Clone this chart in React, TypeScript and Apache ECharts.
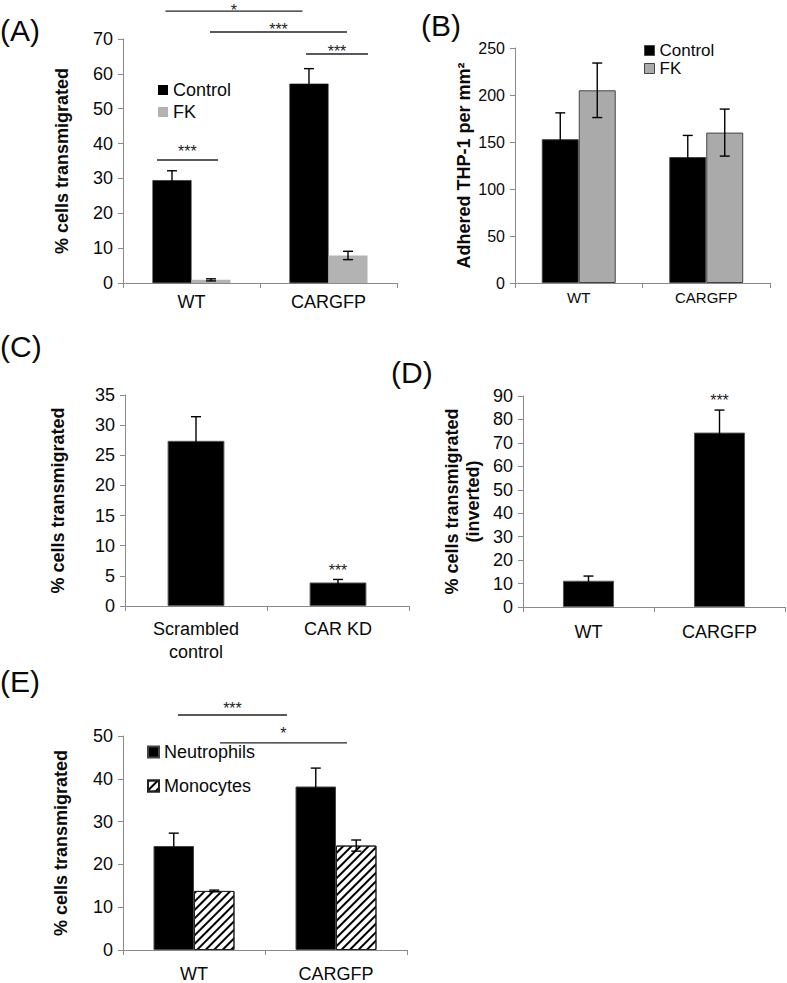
import React, { useEffect, useRef } from "react";
import * as echarts from "echarts";

// ---------- data ----------
const groupsWT = ["WT", "CARGFP"];

// (A) % cells transmigrated
const aControl = [29.5, 57.2];
const aControlErr = [2.7, 4.3];
const aFK = [0.9, 7.9];
const aFKErr = [0.3, 1.2];

// (B) Adhered THP-1 per mm²
const bControl = [153, 134];
const bControlErr = [28, 23];
const bFK = [205, 160];
const bFKErr = [29, 25];

// (C)
const cCategories = ["Scrambled\ncontrol", "CAR KD"];
const cValues = [27.4, 3.9];
const cErr = [4.0, 0.5];

// (D)
const dValues = [11.2, 74.4];
const dErr = [2.0, 9.6];

// (E)
const eNeutrophils = [24.3, 38.2];
const eNeutErr = [3.0, 4.3];
const eMonocytes = [13.8, 24.4];
const eMonoErr = [0.2, 1.3];

// significance annotations: from/to in category-index units, y = line value, labelY = label value
const aSig = [
  { from: -0.19, to: 0.81, y: 78.0, labelY: 79.2, label: "*" },
  { from: 0.135, to: 1.135, y: 72.0, labelY: 73.6, label: "***" },
  { from: 0.836, to: 1.288, y: 65.7, labelY: 67.5, label: "***" },
  { from: -0.252, to: 0.193, y: 35.3, labelY: 38.6, label: "***" },
];
const cSig = [{ from: 1, to: 1, y: 6.5, labelY: 6.5, label: "***" }];
const dSig = [{ from: 1, to: 1, y: 89.6, labelY: 89.6, label: "***" }];
const eSig = [
  { from: -0.113, to: 0.655, y: 54.9, labelY: 57.2, label: "***" },
  { from: 0.183, to: 1.077, y: 48.4, labelY: 51.4, label: "*" },
];

// ---------- helpers ----------
const FONT = "'Liberation Sans', Arial, Helvetica, sans-serif";
const AXIS_GRAY = "#8a8a8a";
const TEXT = "#0a0a0a";

function errorBars(gi: number, values: number[], errs: number[], offsetFrac: number, cap = 5) {
  return {
    type: "custom",
    xAxisIndex: gi,
    yAxisIndex: gi,
    z: 5,
    silent: true,
    data: values.map((v, i) => [i, v, errs[i]]),
    renderItem: (params: any, api: any) => {
      const i = api.value(0);
      const v = api.value(1);
      const e = api.value(2);
      const catW = api.size([1, 0])[0];
      const c = api.coord([i, v]);
      const x = c[0] + offsetFrac * catW;
      const top = api.coord([i, v + e])[1];
      const bot = api.coord([i, Math.max(0, v - e)])[1];
      const st = { stroke: "#000", lineWidth: 1.4 };
      return {
        type: "group",
        children: [
          { type: "line", shape: { x1: x, y1: top, x2: x, y2: bot }, style: st },
          { type: "line", shape: { x1: x - cap, y1: top, x2: x + cap, y2: top }, style: st },
          { type: "line", shape: { x1: x - cap, y1: bot, x2: x + cap, y2: bot }, style: st },
        ],
      };
    },
  };
}

function sigMarks(gi: number, marks: any[], fontSize: number) {
  return {
    type: "custom",
    xAxisIndex: gi,
    yAxisIndex: gi,
    z: 6,
    silent: true,
    clip: false,
    data: marks.map((m, i) => [0, m.y, i]),
    renderItem: (params: any, api: any) => {
      const m = marks[params.dataIndex];
      const catW = api.size([1, 0])[0];
      const c0 = api.coord([0, m.y]);
      const x1 = c0[0] + m.from * catW;
      const x2 = c0[0] + m.to * catW;
      const ly = api.coord([0, m.labelY])[1];
      const children: any[] = [];
      if (m.from !== m.to) {
        children.push({
          type: "line",
          shape: { x1, y1: c0[1], x2, y2: c0[1] },
          style: { stroke: "#222", lineWidth: 1.4 },
        });
      }
      children.push({
        type: "text",
        x: (x1 + x2) / 2,
        y: ly + fontSize * 0.22,
        style: {
          text: m.label,
          fill: "#222",
          font: `${fontSize}px ${FONT}`,
          align: "center",
          verticalAlign: "middle",
        },
      });
      return { type: "group", children };
    },
  };
}

function yAxisCfg(gi: number, max: number, interval: number, name: string, nameGap: number, fontSize: number, nameSize: number) {
  return {
    type: "value",
    gridIndex: gi,
    min: 0,
    max,
    interval,
    name,
    nameLocation: "middle",
    nameGap,
    nameRotate: 90,
    nameTextStyle: { fontSize: nameSize, fontWeight: "bold", color: TEXT, fontFamily: FONT, lineHeight: nameSize + 3 },
    splitLine: { show: false },
    axisLine: { show: true, lineStyle: { color: AXIS_GRAY, width: 1 } },
    axisTick: { show: true, inside: false, length: 5, lineStyle: { color: AXIS_GRAY } },
    axisLabel: { fontSize, color: TEXT, fontFamily: FONT, margin: 10 },
  };
}

function xAxisCfg(gi: number, data: string[], fontSize: number, margin: number, lineHeight?: number) {
  return {
    type: "category",
    gridIndex: gi,
    data,
    axisLine: { show: true, lineStyle: { color: AXIS_GRAY, width: 1 } },
    axisTick: { show: true, inside: false, length: 5, lineStyle: { color: AXIS_GRAY } },
    axisLabel: { fontSize, color: TEXT, fontFamily: FONT, margin, interval: 0, lineHeight: lineHeight || fontSize + 4 },
  };
}

const hatchDecal = {
  symbol: "rect",
  symbolSize: 1,
  dashArrayX: [1, 0],
  dashArrayY: [1.2, 3.6],
  rotation: -Math.PI / 4,
  color: "#000",
};

export default function App() {
  const ref = useRef<HTMLDivElement>(null);

  useEffect(() => {
    if (!ref.current) return;
    const chart = echarts.init(ref.current, undefined, { renderer: "svg" });

    const gapA = 0.43, gapB = 0.42, gapC = 0.6, gapD = 0.61, gapE = 0.43;
    const off = (g: number) => (1 - g) / 4;
    const panelFont = `30px ${FONT}`;

    const option: any = {
      animation: false,
      backgroundColor: "#fff",
      textStyle: { fontFamily: FONT },
      grid: [
        { left: 123, top: 39, width: 274, height: 244, outerBoundsMode: "none" },
        { left: 515, top: 48, width: 255, height: 235, outerBoundsMode: "none" },
        { left: 125, top: 395, width: 284, height: 211, outerBoundsMode: "none" },
        { left: 523, top: 396, width: 262, height: 211, outerBoundsMode: "none" },
        { left: 123, top: 736, width: 284, height: 214, outerBoundsMode: "none" },
      ],
      xAxis: [
        xAxisCfg(0, groupsWT, 18, 8),
        xAxisCfg(1, groupsWT, 15, 5),
        xAxisCfg(2, cCategories, 18, 11, 23),
        xAxisCfg(3, groupsWT, 18, 14),
        xAxisCfg(4, groupsWT, 18, 13),
      ],
      yAxis: [
        yAxisCfg(0, 70, 10, "% cells transmigrated", 51, 18, 18),
        yAxisCfg(1, 250, 50, "Adhered THP-1 per mm²", 40, 16, 18),
        yAxisCfg(2, 35, 5, "% cells transmigrated", 57, 18, 18),
        yAxisCfg(3, 90, 10, "% cells transmigrated\n(inverted)", 40, 18, 18),
        yAxisCfg(4, 50, 10, "% cells transmigrated", 52, 18, 18),
      ],
      legend: [
        {
          left: 158, top: 81, orient: "vertical", padding: 0, itemGap: 4,
          itemWidth: 10, itemHeight: 10, icon: "rect", selectedMode: false,
          textStyle: { fontSize: 18, color: TEXT, fontFamily: FONT },
          data: [
            { name: "Control", itemStyle: { color: "#000", borderWidth: 0 } },
            { name: "FK", itemStyle: { color: "#b3b3b3", borderWidth: 0 } },
          ],
        },
        {
          left: 644, top: 42, orient: "vertical", padding: 0, itemGap: 1,
          itemWidth: 10, itemHeight: 10, icon: "rect", selectedMode: false,
          textStyle: { fontSize: 17, color: TEXT, fontFamily: FONT },
          data: [
            { name: "Control", itemStyle: { color: "#000", borderColor: "#444", borderWidth: 1 } },
            { name: "FK", itemStyle: { color: "#aaaaaa", borderColor: "#444", borderWidth: 1 } },
          ],
        },
        {
          left: 147, top: 743, orient: "vertical", padding: 0, itemGap: 16,
          itemWidth: 11, itemHeight: 11, icon: "rect", selectedMode: false,
          textStyle: { fontSize: 18, color: TEXT, fontFamily: FONT },
          data: ["Neutrophils", "Monocytes"],
        },
      ],
      graphic: [
        { type: "text", x: 0, y: 30, style: { text: "(A)", font: panelFont, fill: TEXT, verticalAlign: "middle" } },
        { type: "text", x: 421, y: 25, style: { text: "(B)", font: panelFont, fill: TEXT, verticalAlign: "middle" } },
        { type: "text", x: 0, y: 346, style: { text: "(C)", font: panelFont, fill: TEXT, verticalAlign: "middle" } },
        { type: "text", x: 391, y: 372, style: { text: "(D)", font: panelFont, fill: TEXT, verticalAlign: "middle" } },
        { type: "text", x: 0, y: 681, style: { text: "(E)", font: panelFont, fill: TEXT, verticalAlign: "middle" } },
      ],
      series: [
        // A
        { name: "Control", type: "bar", xAxisIndex: 0, yAxisIndex: 0, data: aControl, barGap: "0%", barCategoryGap: `${gapA * 100}%`, itemStyle: { color: "#000", borderColor: "#222", borderWidth: 0.6 } },
        { name: "FK", type: "bar", xAxisIndex: 0, yAxisIndex: 0, data: aFK, barGap: "0%", barCategoryGap: `${gapA * 100}%`, itemStyle: { color: "#b3b3b3" } },
        errorBars(0, aControl, aControlErr, -off(gapA)),
        errorBars(0, aFK, aFKErr, off(gapA)),
        sigMarks(0, aSig, 16),
        // B
        { name: "Control", type: "bar", xAxisIndex: 1, yAxisIndex: 1, data: bControl, barGap: "0%", barCategoryGap: `${gapB * 100}%`, itemStyle: { color: "#000", borderColor: "#444", borderWidth: 1 } },
        { name: "FK", type: "bar", xAxisIndex: 1, yAxisIndex: 1, data: bFK, barGap: "0%", barCategoryGap: `${gapB * 100}%`, itemStyle: { color: "#aaaaaa", borderColor: "#444", borderWidth: 1 } },
        errorBars(1, bControl, bControlErr, -off(gapB)),
        errorBars(1, bFK, bFKErr, off(gapB)),
        // C
        { name: "C", type: "bar", xAxisIndex: 2, yAxisIndex: 2, data: cValues, barCategoryGap: `${gapC * 100}%`, itemStyle: { color: "#000", borderColor: "#555", borderWidth: 1 } },
        errorBars(2, cValues, cErr, 0),
        sigMarks(2, cSig, 16),
        // D
        { name: "D", type: "bar", xAxisIndex: 3, yAxisIndex: 3, data: dValues, barCategoryGap: `${gapD * 100}%`, itemStyle: { color: "#000", borderColor: "#555", borderWidth: 1 } },
        errorBars(3, dValues, dErr, 0),
        sigMarks(3, dSig, 16),
        // E
        { name: "Neutrophils", type: "bar", xAxisIndex: 4, yAxisIndex: 4, data: eNeutrophils, barGap: "0%", barCategoryGap: `${gapE * 100}%`, itemStyle: { color: "#000", borderColor: "#444", borderWidth: 1 } },
        { name: "Monocytes", type: "bar", xAxisIndex: 4, yAxisIndex: 4, data: eMonocytes, barGap: "0%", barCategoryGap: `${gapE * 100}%`, itemStyle: { color: "#fff", borderColor: "#222", borderWidth: 1, decal: hatchDecal } },
        errorBars(4, eNeutrophils, eNeutErr, -off(gapE)),
        errorBars(4, eMonocytes, eMonoErr, off(gapE)),
        sigMarks(4, eSig, 16),
      ],
    };

    chart.setOption(option);
    return () => chart.dispose();
  }, []);

  return (
    <div
      ref={ref}
      style={{ position: "absolute", left: 0, top: 0, width: 787, height: 983, background: "#fff" }}
    />
  );
}
